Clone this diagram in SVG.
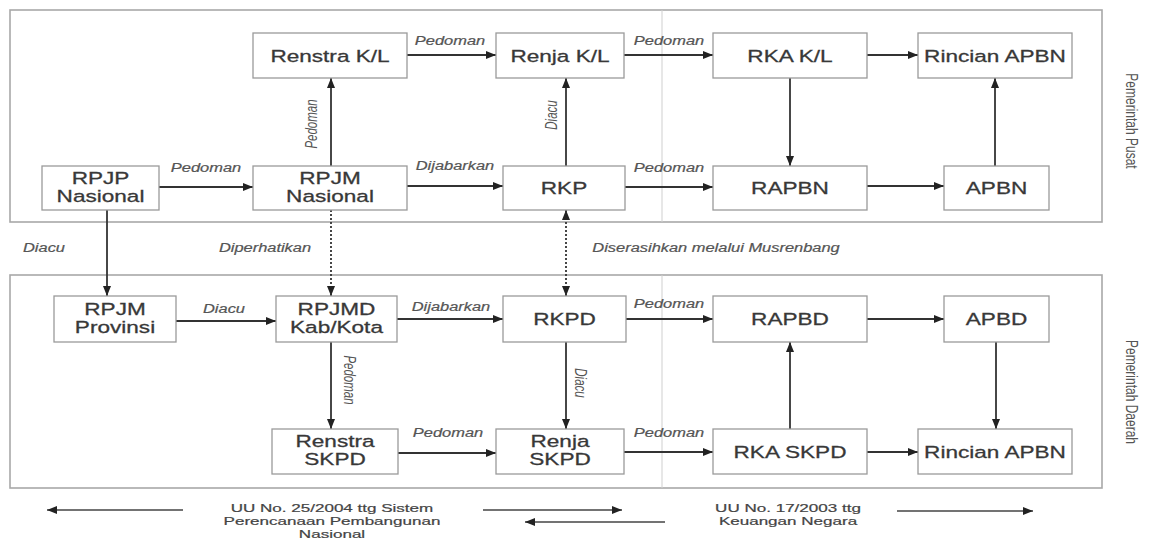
<svg xmlns="http://www.w3.org/2000/svg" width="1149" height="540" viewBox="0 0 1149 540">
<style>
.frame{fill:none;stroke:#a8a8a8;stroke-width:1.6}
.div{stroke:#cfcfcf;stroke-width:1}
.box{fill:#fff;stroke:#9a9a9a;stroke-width:1.3}
.c{stroke:#333;stroke-width:1.8;fill:none;marker-end:url(#ah)}
.d{stroke:#333;stroke-width:1.8;fill:none;stroke-dasharray:2 2;marker-end:url(#ah)}
.leg{stroke:#444;stroke-width:1.5;fill:none;marker-end:url(#ah)}
.n{font-family:"Liberation Sans",Arial,sans-serif;font-size:16.5px;fill:#383838;stroke:#383838;stroke-width:0.28;text-anchor:middle}
.l{font-family:"Liberation Sans",Arial,sans-serif;font-size:12px;font-style:italic;fill:#555;stroke:#555;stroke-width:0.2;text-anchor:middle}
.r{font-family:"Liberation Sans",Arial,sans-serif;font-size:11.5px;font-style:italic;fill:#555;text-anchor:middle}
.g{font-family:"Liberation Sans",Arial,sans-serif;font-size:12px;fill:#555;text-anchor:middle}
.t{font-family:"Liberation Sans",Arial,sans-serif;font-size:11px;fill:#444;stroke:#444;stroke-width:0.2;text-anchor:middle}
</style>
<defs>
<marker id="ah" markerUnits="userSpaceOnUse" markerWidth="10" markerHeight="8" refX="10" refY="4" orient="auto-start-reverse"><path d="M0,0 L10,4 L0,8 z" fill="#222"/></marker>
</defs>
<rect width="1149" height="540" fill="#fff"/>
<g id="frames">
<rect class="frame" x="10" y="10" width="1092" height="212"/>
<rect class="frame" x="10" y="275" width="1092" height="213"/>
<line class="div" x1="662" y1="10" x2="662" y2="222"/>
<line class="div" x1="662" y1="275" x2="662" y2="488"/>
</g>
<g id="connectors">
<line class="c" x1="407" y1="55" x2="496" y2="55"/>
<line class="c" x1="624" y1="55" x2="713" y2="55"/>
<line class="c" x1="867" y1="55" x2="918" y2="55"/>
<line class="c" x1="790" y1="78" x2="790" y2="166"/>
<line class="c" x1="159" y1="187" x2="253" y2="187"/>
<line class="c" x1="331" y1="166" x2="331" y2="78"/>
<line class="c" x1="407" y1="186" x2="503" y2="186"/>
<line class="c" x1="566" y1="166" x2="566" y2="78"/>
<line class="c" x1="625" y1="187" x2="713" y2="187"/>
<line class="c" x1="867" y1="186" x2="944" y2="186"/>
<line class="c" x1="995" y1="166" x2="995" y2="78"/>
<line class="c" x1="107" y1="210" x2="107" y2="296"/>
<line class="d" x1="331" y1="210" x2="331" y2="296"/>
<line class="d" x1="566" y1="210" x2="566" y2="296" marker-start="url(#ah)"/>
<line class="c" x1="176" y1="321" x2="276" y2="321"/>
<line class="c" x1="397" y1="319" x2="503" y2="319"/>
<line class="c" x1="626" y1="319" x2="713" y2="319"/>
<line class="c" x1="867" y1="319" x2="944" y2="319"/>
<line class="c" x1="996" y1="342" x2="996" y2="429"/>
<line class="c" x1="331" y1="342" x2="331" y2="429"/>
<line class="c" x1="566" y1="342" x2="566" y2="429"/>
<line class="c" x1="398" y1="453" x2="496" y2="453"/>
<line class="c" x1="624" y1="452" x2="713" y2="452"/>
<line class="c" x1="790" y1="429" x2="790" y2="342"/>
<line class="c" x1="867" y1="452" x2="918" y2="452"/>
</g>
<g id="connector-labels">
<text class="l" transform="translate(450,45) scale(1.37,1)">Pedoman</text>
<text class="l" transform="translate(669,45) scale(1.37,1)">Pedoman</text>
<text class="l" transform="translate(206,172) scale(1.37,1)">Pedoman</text>
<text class="l" transform="translate(455,170) scale(1.37,1)">Dijabarkan</text>
<text class="l" transform="translate(669,172) scale(1.37,1)">Pedoman</text>
<text class="r" transform="translate(317,124) scale(1.37,1) rotate(-90)">Pedoman</text>
<text class="r" transform="translate(557,115) scale(1.37,1) rotate(-90)">Diacu</text>
<text class="l" transform="translate(44,252) scale(1.37,1)">Diacu</text>
<text class="l" transform="translate(265,252) scale(1.37,1)">Diperhatikan</text>
<text class="l" transform="translate(716,252) scale(1.37,1)">Diserasihkan melalui Musrenbang</text>
<text class="l" transform="translate(224,313) scale(1.37,1)">Diacu</text>
<text class="l" transform="translate(451,311) scale(1.37,1)">Dijabarkan</text>
<text class="l" transform="translate(669,308) scale(1.37,1)">Pedoman</text>
<text class="r" transform="translate(344,380) scale(1.37,1) rotate(90)">Pedoman</text>
<text class="r" transform="translate(575,383) scale(1.37,1) rotate(90)">Diacu</text>
<text class="l" transform="translate(448,437) scale(1.37,1)">Pedoman</text>
<text class="l" transform="translate(669,437) scale(1.37,1)">Pedoman</text>
</g>
<g id="renstra-kl"><rect class="box" x="253" y="33" width="154" height="45"/><text class="n" transform="translate(330,61.5) scale(1.37,1)">Renstra K/L</text></g>
<g id="renja-kl"><rect class="box" x="496" y="33" width="128" height="45"/><text class="n" transform="translate(560,61.5) scale(1.37,1)">Renja K/L</text></g>
<g id="rka-kl"><rect class="box" x="713" y="33" width="154" height="45"/><text class="n" transform="translate(790,61.5) scale(1.37,1)">RKA K/L</text></g>
<g id="rincian-apbn-pusat"><rect class="box" x="918" y="33" width="154" height="45"/><text class="n" transform="translate(995,61.5) scale(1.37,1)">Rincian APBN</text></g>
<g id="rpjp-nasional"><rect class="box" x="42" y="166" width="117" height="44"/><text class="n" transform="translate(100.5,184) scale(1.37,1)">RPJP</text><text class="n" transform="translate(100.5,202) scale(1.37,1)">Nasional</text></g>
<g id="rpjm-nasional"><rect class="box" x="253" y="166" width="154" height="44"/><text class="n" transform="translate(330,184) scale(1.37,1)">RPJM</text><text class="n" transform="translate(330,202) scale(1.37,1)">Nasional</text></g>
<g id="rkp"><rect class="box" x="503" y="166" width="122" height="44"/><text class="n" transform="translate(564,194) scale(1.37,1)">RKP</text></g>
<g id="rapbn"><rect class="box" x="713" y="166" width="154" height="44"/><text class="n" transform="translate(790,194) scale(1.37,1)">RAPBN</text></g>
<g id="apbn"><rect class="box" x="944" y="166" width="105" height="44"/><text class="n" transform="translate(996.5,194) scale(1.37,1)">APBN</text></g>
<g id="rpjm-provinsi"><rect class="box" x="54" y="296" width="122" height="46"/><text class="n" transform="translate(115,315) scale(1.37,1)">RPJM</text><text class="n" transform="translate(115,333) scale(1.37,1)">Provinsi</text></g>
<g id="rpjmd"><rect class="box" x="276" y="296" width="121" height="46"/><text class="n" transform="translate(336.5,315) scale(1.37,1)">RPJMD</text><text class="n" transform="translate(336.5,333) scale(1.37,1)">Kab/Kota</text></g>
<g id="rkpd"><rect class="box" x="503" y="296" width="123" height="46"/><text class="n" transform="translate(564.5,325) scale(1.37,1)">RKPD</text></g>
<g id="rapbd"><rect class="box" x="713" y="296" width="154" height="46"/><text class="n" transform="translate(790,325) scale(1.37,1)">RAPBD</text></g>
<g id="apbd"><rect class="box" x="944" y="296" width="105" height="46"/><text class="n" transform="translate(996.5,325) scale(1.37,1)">APBD</text></g>
<g id="renstra-skpd"><rect class="box" x="272" y="429" width="126" height="45"/><text class="n" transform="translate(335,447) scale(1.37,1)">Renstra</text><text class="n" transform="translate(335,465) scale(1.37,1)">SKPD</text></g>
<g id="renja-skpd"><rect class="box" x="496" y="429" width="128" height="45"/><text class="n" transform="translate(560,447) scale(1.37,1)">Renja</text><text class="n" transform="translate(560,465) scale(1.37,1)">SKPD</text></g>
<g id="rka-skpd"><rect class="box" x="713" y="429" width="154" height="45"/><text class="n" transform="translate(790,457.5) scale(1.37,1)">RKA SKPD</text></g>
<g id="rincian-apbn-daerah"><rect class="box" x="918" y="429" width="154" height="45"/><text class="n" transform="translate(995,457.5) scale(1.37,1)">Rincian APBN</text></g>
<g id="side-labels">
<text class="g" transform="translate(1126,121) scale(1.37,1) rotate(90)">Pemerintah Pusat</text>
<text class="g" transform="translate(1126,392) scale(1.37,1) rotate(90)">Pemerintah Daerah</text>
</g>
<g id="legend">
<line class="leg" x1="183" y1="510" x2="47" y2="510"/>
<line class="leg" x1="483" y1="510" x2="622" y2="510"/>
<line class="leg" x1="665" y1="522" x2="525" y2="522"/>
<line class="leg" x1="897" y1="511" x2="1033" y2="511"/>
<text class="t" transform="translate(332,512) scale(1.55,1)">UU No. 25/2004 ttg Sistem</text>
<text class="t" transform="translate(332,525) scale(1.55,1)">Perencanaan Pembangunan</text>
<text class="t" transform="translate(332,538) scale(1.55,1)">Nasional</text>
<text class="t" transform="translate(788,512) scale(1.55,1)">UU No. 17/2003 ttg</text>
<text class="t" transform="translate(788,525) scale(1.55,1)">Keuangan Negara</text>
</g>
</svg>
